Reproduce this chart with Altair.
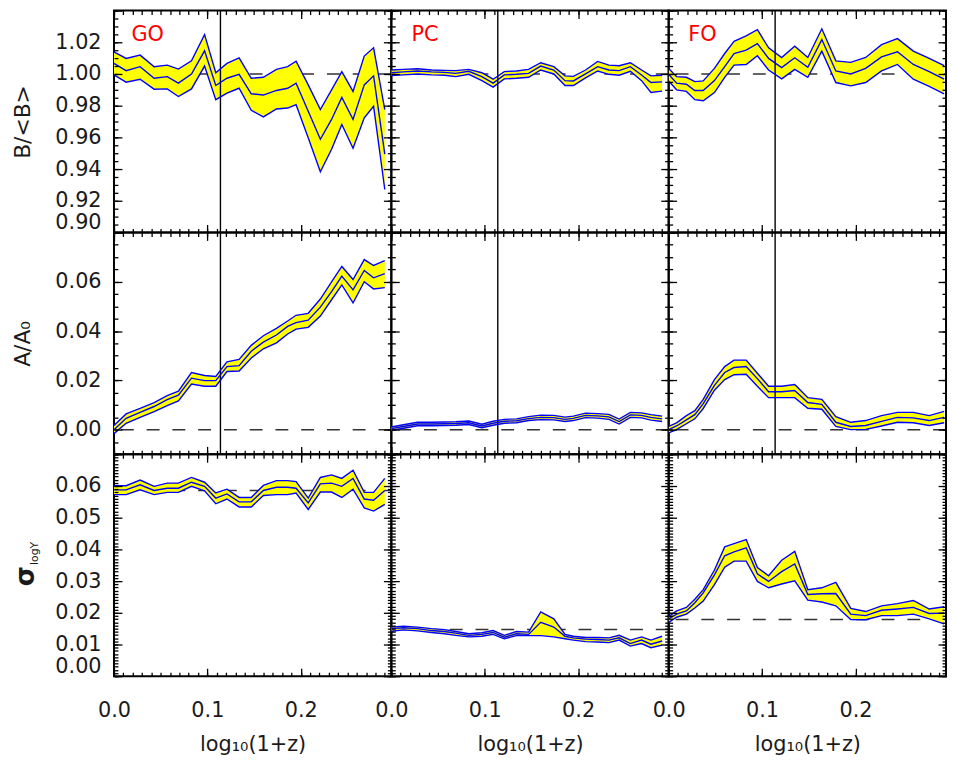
import altair as alt
import pandas as pd

# ---------------- data ----------------
x_go_pc = [0.000, 0.013, 0.028, 0.043, 0.057, 0.069, 0.083, 0.097, 0.109, 0.121, 0.134, 0.147,
           0.160, 0.174, 0.186, 0.195, 0.208, 0.221, 0.233, 0.244, 0.256, 0.268, 0.278, 0.290]
x_fo = [0.000, 0.0085, 0.019, 0.028, 0.037, 0.049, 0.060, 0.070, 0.083, 0.095, 0.107, 0.121,
        0.135, 0.149, 0.164, 0.179, 0.195, 0.211, 0.228, 0.245, 0.262, 0.279, 0.295]

# Row 1: B/<B>
go_b_hi = [1.0140, 1.0098, 1.0119, 1.0046, 1.0056, 1.0031, 1.0083, 1.0248, 1.0008, 1.0067, 1.0102, 0.9973,
           0.9979, 1.0029, 1.0046, 1.0081, 0.9931, 0.9775, 0.9900, 1.0015, 0.9890, 1.0113, 1.0165, 0.9775]
go_b_mid = [1.0067, 1.0021, 1.0046, 0.9973, 0.9983, 0.9942, 1.0000, 1.0146, 0.9927, 0.9973, 0.9998, 0.9875,
            0.9867, 0.9896, 0.9910, 0.9942, 0.9765, 0.9588, 0.9713, 0.9852, 0.9713, 0.9931, 0.9988, 0.9494]
go_b_lo = [0.9994, 0.9948, 0.9967, 0.9904, 0.9906, 0.9858, 0.9906, 1.0050, 0.9838, 0.9879, 0.9910, 0.9771,
           0.9729, 0.9779, 0.9785, 0.9806, 0.9598, 0.9383, 0.9525, 0.9681, 0.9531, 0.9723, 0.9796, 0.9271]

pc_b_hi = [1.0025, 1.0029, 1.0033, 1.0025, 1.0023, 1.0021, 1.0029, 1.0008, 0.9967, 1.0015, 1.0019, 1.0029,
           1.0071, 1.0046, 0.9988, 0.9985, 1.0025, 1.0079, 1.0056, 1.0052, 1.0071, 1.0025, 0.9988, 0.9992]
pc_b_mid = [1.0008, 1.0013, 1.0019, 1.0013, 1.0010, 1.0004, 1.0017, 0.9983, 0.9942, 0.9994, 0.9998, 1.0004,
            1.0050, 1.0025, 0.9958, 0.9956, 1.0000, 1.0046, 1.0025, 1.0021, 1.0046, 0.9994, 0.9946, 0.9950]
pc_b_lo = [0.9990, 0.9994, 1.0000, 0.9994, 0.9992, 0.9983, 0.9998, 0.9958, 0.9917, 0.9969, 0.9973, 0.9979,
           1.0025, 1.0000, 0.9927, 0.9927, 0.9975, 1.0019, 0.9998, 0.9992, 1.0017, 0.9958, 0.9883, 0.9892]

fo_b_hi = [1.0035, 0.9983, 0.9979, 0.9952, 0.9956, 1.0035, 1.0129, 1.0206, 1.0240, 1.0279, 1.0165, 1.0104,
           1.0175, 1.0104, 1.0285, 1.0083, 1.0073, 1.0104, 1.0185, 1.0223, 1.0144, 1.0098, 1.0052]
fo_b_mid = [0.9998, 0.9942, 0.9935, 0.9896, 0.9896, 0.9958, 1.0046, 1.0129, 1.0150, 1.0192, 1.0098, 1.0040,
            1.0102, 1.0042, 1.0217, 1.0019, 1.0000, 1.0035, 1.0108, 1.0140, 1.0060, 1.0015, 0.9967]
fo_b_lo = [0.9956, 0.9900, 0.9890, 0.9838, 0.9831, 0.9883, 0.9979, 1.0056, 1.0060, 1.0115, 1.0025, 0.9969,
           1.0029, 0.9979, 1.0144, 0.9946, 0.9925, 0.9946, 1.0019, 1.0060, 0.9967, 0.9921, 0.9875]

# Row 2: A/A0
go_a_hi = [0.0017, 0.0064, 0.0086, 0.0110, 0.0138, 0.0156, 0.0232, 0.0220, 0.0216, 0.0275, 0.0285, 0.0342,
           0.0381, 0.0411, 0.0441, 0.0464, 0.0472, 0.0530, 0.0600, 0.0662, 0.0609, 0.0690, 0.0666, 0.0686]
go_a_mid = [0.0000, 0.0046, 0.0070, 0.0094, 0.0122, 0.0140, 0.0209, 0.0199, 0.0199, 0.0256, 0.0260, 0.0318,
            0.0355, 0.0384, 0.0419, 0.0434, 0.0444, 0.0497, 0.0560, 0.0623, 0.0567, 0.0646, 0.0616, 0.0633]
go_a_lo = [-0.0016, 0.0026, 0.0050, 0.0073, 0.0098, 0.0117, 0.0185, 0.0176, 0.0176, 0.0236, 0.0238, 0.0291,
           0.0328, 0.0352, 0.0388, 0.0408, 0.0415, 0.0461, 0.0527, 0.0587, 0.0514, 0.0600, 0.0571, 0.0576]

pc_a_hi = [0.0011, 0.0020, 0.0030, 0.0030, 0.0031, 0.0032, 0.0035, 0.0022, 0.0034, 0.0042, 0.0044, 0.0053,
           0.0059, 0.0058, 0.0051, 0.0055, 0.0067, 0.0065, 0.0062, 0.0043, 0.0070, 0.0068, 0.0061, 0.0055]
pc_a_mid = [0.0004, 0.0013, 0.0023, 0.0023, 0.0024, 0.0025, 0.0028, 0.0015, 0.0026, 0.0034, 0.0036, 0.0045,
            0.0050, 0.0049, 0.0042, 0.0046, 0.0058, 0.0056, 0.0052, 0.0033, 0.0060, 0.0058, 0.0050, 0.0044]
pc_a_lo = [-0.0003, 0.0006, 0.0016, 0.0016, 0.0017, 0.0018, 0.0021, 0.0008, 0.0018, 0.0026, 0.0028, 0.0037,
           0.0041, 0.0040, 0.0033, 0.0037, 0.0049, 0.0047, 0.0042, 0.0023, 0.0050, 0.0048, 0.0039, 0.0033]

fo_a_hi = [0.0013, 0.0028, 0.0057, 0.0077, 0.0123, 0.0203, 0.0256, 0.0282, 0.0282, 0.0229, 0.0176, 0.0176,
           0.0183, 0.0130, 0.0123, 0.0053, 0.0030, 0.0037, 0.0057, 0.0070, 0.0070, 0.0057, 0.0074]
fo_a_mid = [0.0000, 0.0015, 0.0040, 0.0061, 0.0106, 0.0180, 0.0232, 0.0252, 0.0256, 0.0207, 0.0154, 0.0154,
            0.0159, 0.0110, 0.0103, 0.0030, 0.0013, 0.0017, 0.0034, 0.0050, 0.0048, 0.0037, 0.0050]
fo_a_lo = [-0.0013, 0.0000, 0.0024, 0.0044, 0.0086, 0.0160, 0.0203, 0.0223, 0.0225, 0.0176, 0.0130, 0.0130,
           0.0130, 0.0087, 0.0083, 0.0013, 0.0000, 0.0001, 0.0015, 0.0030, 0.0028, 0.0017, 0.0028]

# Row 3: sigma_logY
go_s_hi = [0.0601, 0.0601, 0.0619, 0.0599, 0.0609, 0.0609, 0.0627, 0.0612, 0.0578, 0.0590, 0.0564, 0.0564,
           0.0602, 0.0617, 0.0617, 0.0614, 0.0562, 0.0627, 0.0635, 0.0624, 0.0650, 0.0580, 0.0580, 0.0624]
go_s_mid = [0.0588, 0.0588, 0.0604, 0.0586, 0.0593, 0.0593, 0.0612, 0.0599, 0.0562, 0.0575, 0.0550, 0.0550,
            0.0586, 0.0596, 0.0596, 0.0593, 0.0547, 0.0607, 0.0609, 0.0599, 0.0624, 0.0559, 0.0555, 0.0586]
go_s_lo = [0.0573, 0.0573, 0.0588, 0.0573, 0.0580, 0.0580, 0.0599, 0.0585, 0.0544, 0.0559, 0.0534, 0.0534,
           0.0570, 0.0573, 0.0573, 0.0578, 0.0526, 0.0581, 0.0581, 0.0564, 0.0590, 0.0531, 0.0521, 0.0542]

pc_s_hi = [0.0155, 0.0158, 0.0155, 0.0150, 0.0147, 0.0141, 0.0134, 0.0137, 0.0144, 0.0129, 0.0141, 0.0139,
           0.0203, 0.0181, 0.0132, 0.0126, 0.0122, 0.0122, 0.0121, 0.0129, 0.0114, 0.0124, 0.0114, 0.0126]
pc_s_mid = [0.0150, 0.0153, 0.0150, 0.0144, 0.0141, 0.0136, 0.0129, 0.0132, 0.0138, 0.0123, 0.0134, 0.0132,
            0.0170, 0.0155, 0.0126, 0.0121, 0.0117, 0.0116, 0.0114, 0.0121, 0.0103, 0.0114, 0.0101, 0.0111]
pc_s_lo = [0.0142, 0.0146, 0.0143, 0.0138, 0.0134, 0.0129, 0.0124, 0.0126, 0.0132, 0.0118, 0.0128, 0.0128,
           0.0128, 0.0124, 0.0118, 0.0114, 0.0109, 0.0108, 0.0106, 0.0114, 0.0095, 0.0103, 0.0090, 0.0098]

fo_s_hi = [0.0188, 0.0206, 0.0217, 0.0243, 0.0273, 0.0335, 0.0408, 0.0418, 0.0431, 0.0343, 0.0317, 0.0366,
           0.0394, 0.0273, 0.0279, 0.0296, 0.0214, 0.0204, 0.0222, 0.0229, 0.0239, 0.0212, 0.0219]
fo_s_mid = [0.0181, 0.0196, 0.0206, 0.0232, 0.0263, 0.0320, 0.0380, 0.0392, 0.0405, 0.0323, 0.0299, 0.0330,
            0.0354, 0.0258, 0.0260, 0.0261, 0.0196, 0.0191, 0.0208, 0.0212, 0.0217, 0.0198, 0.0199]
fo_s_lo = [0.0170, 0.0186, 0.0196, 0.0215, 0.0237, 0.0289, 0.0344, 0.0363, 0.0363, 0.0299, 0.0279, 0.0291,
           0.0301, 0.0240, 0.0234, 0.0222, 0.0179, 0.0178, 0.0191, 0.0191, 0.0196, 0.0181, 0.0165]

panel_names = ["GO", "PC", "FO"]
ref_levels = [[1.0, 1.0, 1.0], [0.0, 0.0, 0.0], [0.0586, 0.0147, 0.0179]]
vline_x = 0.114  # log10(1 + 0.3)

row_titles = ["B/<B>", "A/A₀", None]
x_title = "log₁₀(1+z)"
y_domains = [[0.90, 1.04], [-0.01, 0.08], [0.0, 0.07]]
y_label_values = [[0.90, 0.92, 0.94, 0.96, 0.98, 1.00, 1.02],
                  [0.00, 0.02, 0.04, 0.06],
                  [0.00, 0.01, 0.02, 0.03, 0.04, 0.05, 0.06]]
y_major_ticks = [[round(0.90 + 0.02 * i, 3) for i in range(8)],
                 [round(0.00 + 0.02 * i, 3) for i in range(5)],
                 [round(0.00 + 0.01 * i, 3) for i in range(8)]]
y_minor_ticks = [[round(0.90 + 0.005 * i, 4) for i in range(29)],
                 [round(-0.01 + 0.005 * i, 4) for i in range(19)],
                 [round(0.000 + 0.001 * i, 4) for i in range(71)]]
x_domain = [0.0, 0.297]
x_label_values = [0.0, 0.1, 0.2]
x_minor_ticks = [round(0.01 * i, 3) for i in range(30)]

series = {
    (0, 0): (x_go_pc, go_b_lo, go_b_mid, go_b_hi),
    (0, 1): (x_go_pc, pc_b_lo, pc_b_mid, pc_b_hi),
    (0, 2): (x_fo, fo_b_lo, fo_b_mid, fo_b_hi),
    (1, 0): (x_go_pc, go_a_lo, go_a_mid, go_a_hi),
    (1, 1): (x_go_pc, pc_a_lo, pc_a_mid, pc_a_hi),
    (1, 2): (x_fo, fo_a_lo, fo_a_mid, fo_a_hi),
    (2, 0): (x_go_pc, go_s_lo, go_s_mid, go_s_hi),
    (2, 1): (x_go_pc, pc_s_lo, pc_s_mid, pc_s_hi),
    (2, 2): (x_fo, fo_s_lo, fo_s_mid, fo_s_hi),
}

# ---------------- styling ----------------
W, H = 280, 224
FONT = "DejaVu Sans"
TXT = "#1a1a1a"
MAJOR, MINOR = 8, 4
LABEL_SIZE = 21


def tick_axis(orient, offset, values, size):
    return alt.Axis(orient=orient, offset=offset, values=values, labels=False, domain=False,
                    grid=False, title=None, ticks=True, tickSize=size, tickColor="black",
                    tickWidth=1.3, zindex=1)


def make_panel(r, c):
    xs, lo, mid, hi = series[(r, c)]
    df = pd.DataFrame({"x": xs, "lo": lo, "mid": mid, "hi": hi})
    xsc = alt.Scale(domain=x_domain, nice=False, zero=False)
    ysc = alt.Scale(domain=y_domains[r], nice=False, zero=False)
    base = alt.Chart(df)
    layers = []

    # dashed reference line (behind band)
    layers.append(
        alt.Chart(pd.DataFrame({"ref": [ref_levels[r][c]]}))
        .mark_rule(color="#333333", strokeWidth=1.5, strokeDash=[13, 13])
        .encode(y=alt.Y("ref:Q", scale=ysc, axis=None))
    )
    # band
    layers.append(
        base.mark_area(color="#ffff00", opacity=1, clip=True).encode(
            x=alt.X("x:Q", scale=xsc, axis=None),
            y=alt.Y("lo:Q", scale=ysc, axis=None),
            y2="hi:Q",
        )
    )
    # vertical line (top two rows)
    if r < 2:
        layers.append(
            alt.Chart(pd.DataFrame({"v": [vline_x]}))
            .mark_rule(color="black", strokeWidth=1.4)
            .encode(x=alt.X("v:Q", scale=xsc, axis=None))
        )
    # three blue lines
    layers.append(
        base.transform_fold(["lo", "mid", "hi"], as_=["k", "val"])
        .mark_line(color="#0000ff", strokeWidth=1.4, clip=True)
        .encode(
            x=alt.X("x:Q", scale=xsc, axis=None),
            y=alt.Y("val:Q", scale=ysc, axis=None),
            detail="k:N",
        )
    )
    # panel name
    if r == 0:
        layers.append(
            alt.Chart(pd.DataFrame({"t": [panel_names[c]]}))
            .mark_text(color="#ff0000", font=FONT, fontSize=21, align="center", baseline="middle")
            .encode(x=alt.value(34), y=alt.value(25), text="t:N")
        )

    # inward tick axes
    def axis_layer(xax, yax):
        return base.mark_point(opacity=0, size=1).encode(
            x=alt.X("x:Q", scale=xsc, axis=xax),
            y=alt.Y("mid:Q", scale=ysc, axis=yax),
        )

    layers.append(axis_layer(tick_axis("top", -H, x_label_values, MAJOR),
                             tick_axis("right", -W, y_major_ticks[r], MAJOR)))
    layers.append(axis_layer(tick_axis("top", -H, x_minor_ticks, MINOR),
                             tick_axis("right", -W, y_minor_ticks[r], MINOR)))
    layers.append(axis_layer(tick_axis("bottom", -H, x_label_values, MAJOR),
                             tick_axis("left", -W, y_major_ticks[r], MAJOR)))
    layers.append(axis_layer(tick_axis("bottom", -H, x_minor_ticks, MINOR),
                             tick_axis("left", -W, y_minor_ticks[r], MINOR)))

    # label axes
    xlab = None
    ylab = None
    if r == 2:
        xlab = alt.Axis(orient="bottom", values=x_label_values, format=".1f", ticks=False, tickSize=0,
                        domain=False, grid=False, labelFlush=False, labelFontSize=LABEL_SIZE,
                        labelFont=FONT, labelColor=TXT, labelPadding=35, labelBaseline="middle",
                        title=x_title, titleFont=FONT, titleFontSize=21, titleFontWeight="normal",
                        titleColor=TXT, titleY=69, titleBaseline="middle")
    if c == 0:
        ytitle = row_titles[r]
        kw = dict(orient="left", values=y_label_values[r], format=".2f", ticks=False, tickSize=0,
                  domain=False, grid=False, labelFlush=True, labelFontSize=LABEL_SIZE, labelFont=FONT,
                  labelColor=TXT, labelPadding=13)
        if ytitle is not None:
            kw.update(title=ytitle, titleFont=FONT, titleFontSize=22, titleFontWeight="normal",
                      titleColor=TXT, titleX=-92, titleY=H / 2, titleAngle=270,
                      titleAlign="center", titleBaseline="middle")
        else:
            kw.update(title=None)
        ylab = alt.Axis(**kw)
    if xlab is not None or ylab is not None:
        layers.append(axis_layer(xlab, ylab))

    # sigma_logY title as text
    if r == 2 and c == 0:
        layers.append(
            alt.Chart(pd.DataFrame({"t": ["σ"]}))
            .mark_text(font=FONT, fontSize=26, fontWeight="bold", color=TXT, angle=270,
                       align="center", baseline="middle")
            .encode(x=alt.value(-89), y=alt.value(123), text="t:N")
        )
        layers.append(
            alt.Chart(pd.DataFrame({"t": ["logY"]}))
            .mark_text(font=FONT, fontSize=11, color=TXT, angle=270,
                       align="center", baseline="middle")
            .encode(x=alt.value(-80), y=alt.value(100), text="t:N")
        )

    return (
        alt.layer(*layers)
        .resolve_axis(x="independent", y="independent")
        .properties(width=W, height=H)
    )


panels = [make_panel(r, c) for r in range(3) for c in range(3)]

chart = (
    alt.concat(*panels, columns=3, spacing=0)
    .properties(bounds="flush", padding={"left": 3, "top": -3, "right": 0, "bottom": 2})
    .configure_view(stroke="black", strokeWidth=2)
    .configure_axis(grid=False)
)

chart.save("out.html", embed_options={"renderer": "svg", "actions": False})
